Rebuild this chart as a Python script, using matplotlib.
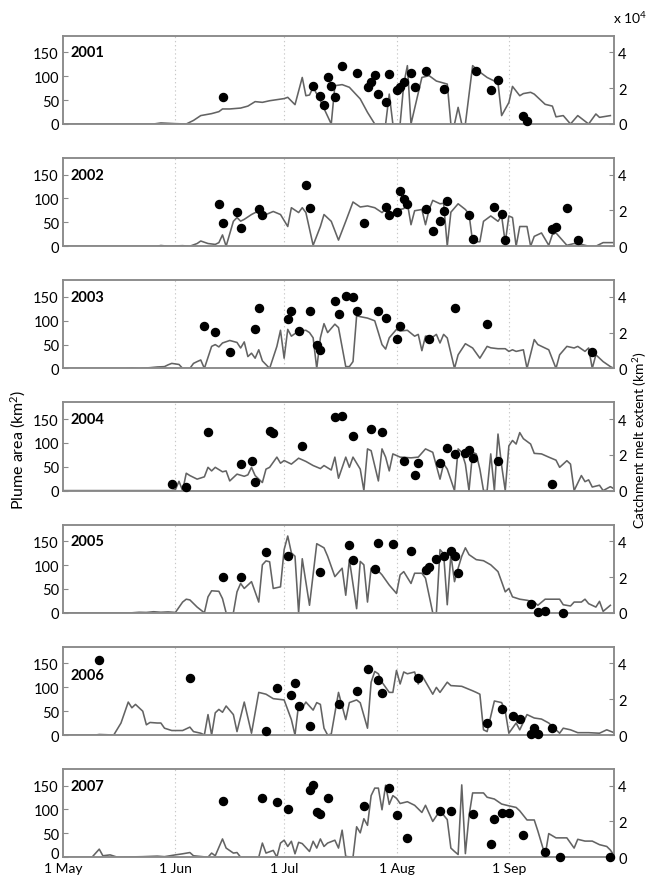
import matplotlib
matplotlib.use("Agg")
import matplotlib.pyplot as plt
from matplotlib.transforms import ScaledTranslation

plt.rcParams['font.family'] = ['Lato', 'DejaVu Sans']
plt.rcParams['mathtext.fontset'] = 'custom'
plt.rcParams['mathtext.rm'] = 'Lato'
plt.rcParams['mathtext.it'] = 'Lato'

# ---- axis labelling -------------------------------------------------------
years = [2001, 2002, 2003, 2004, 2005, 2006, 2007]
month_days = [0, 31, 61, 92, 123]          # days since 1 May
month_labels = ['1 May', '1 Jun', '1 Jul', '1 Aug', '1 Sep']
plume_ticks = [0, 50, 100, 150]
melt_ticks = [0, 2, 4]

# ---- catchment melt extent (x 10^4 km^2), day since 1 May -----------------
melt_days_2001 = [0, 25, 27, 29, 31, 34, 36, 38, 41, 43, 44, 46, 49, 51, 53, 55, 57, 59, 61, 62, 64, 66, 67, 68, 69, 71,
                  74, 75, 77, 79, 82, 84, 86, 89, 90, 91, 93, 94, 95, 96, 99, 101, 103, 106, 107, 108, 109, 110, 111,
                  113, 115, 117, 120, 121, 123, 124, 126, 127, 129, 130, 133, 135, 136, 138, 140, 142, 145, 147, 148, 151]
melt_2001 = [0, 0, 0.06, 0.04, 0.02, 0, 0.2, 0.47, 0.58, 0.69, 0.84, 0.84, 0.89, 1.0, 1.25, 1.21, 1.3, 1.36, 1.42, 1.49,
             1.08, 2.6, 1.58, 1.62, 2.05, 1.3, 0, 2.14, 2.2, 2.05, 1.4, 0.65, 0, 0, 1.67, 0, 0, 2.23, 3.26, 0, 2.6, 2.7,
             2.4, 2.23, 0, 0, 0.93, 0, 0, 3.26, 2.9, 2.6, 2.3, 0.47, 1.2, 2.1, 1.58, 1.7, 1.77, 1.67, 1.1, 1.0, 0.4,
             0.47, 0, 0.47, 0, 0.56, 0.37, 0.47]

melt_days_2002 = [0, 26, 27, 29, 33, 35, 37, 38, 40, 42, 43, 44, 45, 47, 48, 49, 50, 52, 54, 55, 56, 58, 60, 62, 63, 65,
                  66, 67, 69, 71, 72, 74, 76, 78, 80, 82, 84, 86, 88, 89, 91, 92, 94, 95, 96, 97, 99, 100, 101, 102,
                  104, 105, 106, 107, 109, 111, 112, 113, 115, 116, 118, 120, 121, 122, 123, 124, 125, 126, 128, 129,
                  130, 132, 134, 135, 136, 139, 141, 143, 145, 147, 149, 152]
melt_2002 = [0, 0, 0.04, 0, 0.03, 0, 0.15, 0.29, 0.15, 0.1, 0.2, 0.63, 0, 1.39, 1.6, 1.4, 1.5, 1.77, 1.98, 1.6, 1.77,
             1.94, 1.77, 1.1, 2.15, 1.88, 2.15, 1.88, 0.05, 1.1, 1.77, 1.39, 0.34, 1.39, 2.47, 2.19, 2.25, 2.15, 1.88,
             2.05, 1.8, 2.0, 2.1, 2.4, 1.2, 1.98, 2.05, 1.2, 2.05, 2.56, 2.37, 2.4, 0, 1.9, 2.37, 2.05, 1.8, 0.25,
             0.25, 1.39, 1.69, 1.39, 1.69, 0.2, 1.69, 1.6, 0, 1.1, 1.1, 0, 0.55, 0.74, 0.05, 0.65, 0.74, 0.05, 0.15,
             0.1, 0, 0, 0.2, 0.2]

melt_days_2003 = [0, 17, 19, 21, 24, 26, 28, 29, 30, 31, 32, 33, 35, 36, 37, 38, 39, 41, 42, 43, 44, 46, 48, 49, 50, 51,
                  52, 53, 54, 55, 57, 59, 60, 61, 62, 63, 65, 67, 68, 69, 70, 71, 72, 73, 75, 76, 78, 79, 80, 81, 82,
                  84, 86, 87, 88, 89, 90, 92, 93, 95, 97, 98, 99, 100, 102, 103, 104, 105, 106, 108, 109, 111, 113,
                  115, 117, 118, 120, 122, 123, 124, 125, 127, 128, 130, 131, 134, 136, 137, 139, 141, 142, 144, 145,
                  146, 147, 149, 151, 152]
melt_2003 = [0, 0, 0.03, 0, 0.04, 0.08, 0.1, 0.2, 0.28, 0.25, 0.22, 0, 0, 0.28, 0.38, 0.47, 0, 1.23, 1.33, 1.2, 1.42,
             1.56, 1.45, 1.14, 1.48, 0.66, 0.85, 0.57, 1.04, 0.42, 0, 1.23, 2.13, 0.57, 2.18, 1.8, 2.09, 2.13, 2.0,
             1.71, 0, 1.71, 2.5, 2.0, 2.47, 2.28, 0.1, 0.1, 0.38, 2.94, 2.89, 2.81, 2.66, 2.0, 1.33, 1.08, 1.71, 2.18,
             2.09, 2.13, 1.8, 1.9, 0.99, 1.8, 1.75, 1.9, 1.42, 1.9, 1.7, 0, 0.76, 1.38, 1.14, 0.57, 1.23, 1.15, 1.1,
             1.1, 0.95, 1.04, 0.95, 1.04, 0, 1.61, 1.33, 1.04, 0, 0.76, 1.23, 1.14, 1.23, 0.95, 1.14, 0, 0.76, 0.38,
             0.1, 0]

melt_days_2004 = [0, 30, 31, 32, 33, 34, 35, 37, 39, 40, 41, 42, 44, 45, 46, 48, 50, 51, 52, 53, 55, 56, 57, 59, 60, 61,
                  63, 65, 67, 69, 71, 72, 74, 75, 76, 78, 79, 80, 82, 83, 84, 85, 87, 88, 89, 90, 91, 93, 96, 98, 100,
                  102, 104, 105, 106, 108, 109, 110, 111, 112, 113, 114, 115, 116, 117, 118, 119, 120, 121, 122, 123,
                  124, 125, 126, 127, 129, 130, 132, 134, 136, 137, 139, 140, 141, 143, 144, 145, 146, 148, 149, 151,
                  152]
melt_2004 = [0, 0, 0.05, 0.52, 0, 0.97, 0.84, 0.64, 0.77, 1.3, 1.1, 1.3, 1.05, 1.1, 0.54, 0.92, 0.8, 0.88, 1.3, 0.84,
             0.45, 1.2, 1.3, 1.87, 1.53, 1.68, 1.48, 1.81, 1.63, 1.4, 1.23, 1.4, 1.15, 1.87, 0.69, 1.87, 1.3, 1.87,
             1.2, 0, 2.33, 2.23, 0.54, 2.33, 1.87, 1.1, 2.05, 1.87, 1.83, 1.87, 2.33, 2.14, 0.64, 1.5, 1.2, 0, 2.33,
             2.14, 1.48, 0, 2.14, 2.05, 1.2, 0, 0, 2.05, 0, 3.16, 1.4, 0, 2.5, 2.8, 2.6, 3.24, 2.9, 2.6, 2.08, 2.05,
             1.87, 1.7, 1.3, 1.67, 1.48, 0, 0.84, 0.5, 0.6, 0.2, 0.3, 0, 0.22, 0.1]

melt_days_2005 = [0, 19, 21, 23, 25, 27, 29, 31, 33, 34, 35, 37, 39, 40, 41, 43, 44, 45, 47, 48, 49, 50, 52, 54, 55, 56,
                  57, 58, 60, 61, 62, 63, 64, 65, 66, 68, 70, 72, 73, 75, 77, 78, 79, 81, 82, 83, 84, 85, 87, 88, 90,
                  92, 93, 94, 96, 97, 99, 100, 102, 103, 104, 105, 106, 107, 108, 109, 110, 111, 112, 114, 116, 118,
                  120, 121, 122, 123, 124, 126, 128, 130, 131, 133, 137, 138, 140, 141, 143, 144, 145, 147, 148, 149,
                  151]
melt_2005 = [0, 0, 0.03, 0.02, 0.06, 0.03, 0.05, 0.02, 0.6, 0.76, 0.72, 0.32, 0, 0.89, 1.23, 1.2, 0.79, 0, 0, 1.17,
             1.64, 1.36, 1.74, 0.6, 2.68, 2.9, 2.85, 1.36, 1.45, 3.53, 4.29, 3.35, 3.16, 0, 3.02, 0.42, 3.86, 3.63,
             3.16, 2.02, 2.49, 0.98, 2.97, 0.23, 2.87, 2.68, 0.6, 2.49, 2.34, 2.12, 1.55, 1.08, 2.12, 2.3, 1.64, 2.21,
             2.21, 1.93, 0, 0, 3.53, 3.3, 0.45, 3.25, 1.74, 2.49, 3.16, 3.63, 3.25, 2.97, 2.91, 2.68, 2.3, 1.74, 1.17,
             1.36, 0.89, 0.76, 0.7, 0.6, 0.42, 0.76, 0.76, 0.45, 0.38, 0.6, 0.6, 0.76, 0.51, 0.32, 0.64, 0.08, 0.42]

melt_days_2006 = [0, 9, 10, 14, 16, 18, 19, 20, 22, 23, 24, 26, 27, 28, 30, 33, 35, 36, 38, 39, 40, 41, 42, 43, 44, 45,
                  47, 48, 50, 52, 54, 56, 58, 61, 63, 64, 65, 66, 67, 69, 70, 71, 72, 73, 74, 76, 77, 78, 79, 81, 82,
                  84, 85, 86, 87, 88, 90, 91, 92, 93, 94, 95, 97, 98, 99, 102, 103, 104, 106, 107, 110, 113, 114, 115,
                  116, 117, 119, 121, 122, 123, 125, 126, 128, 130, 132, 134, 135, 137, 138, 140, 142, 145, 148, 150,
                  152]
melt_2006 = [0, 0, 0.03, 0, 0.67, 1.84, 1.52, 1.71, 1.33, 0.57, 0.7, 0.67, 0.67, 0.38, 0.25, 0.25, 0.44, 0.19, 0.1,
             0, 1.14, 0, 1.24, 1.43, 1.27, 1.62, 1.14, 0.19, 1.84, 0.1, 2.38, 2.28, 2.03, 1.96, 0.86, 0, 1.71, 1.5,
             1.84, 1.39, 1.81, 1.71, 0.38, 0, 0.05, 2.38, 1.62, 0.86, 1.81, 1.96, 1.8, 0.38, 2.95, 3.55, 3.42, 2.95,
             2.38, 2.38, 3.61, 2.85, 3.52, 3.42, 3.52, 2.85, 3.33, 2.28, 2.66, 2.38, 2.95, 2.76, 2.72, 2.47, 2.38,
             2.28, 0.29, 0.19, 1.9, 1.81, 1.33, 0.1, 0.67, 0.29, 1.14, 0.95, 0.89, 0.67, 0.48, 0.1, 0.38, 0.29, 0.13,
             0.13, 0.1, 0.29, 0.13]

melt_days_2007 = [0, 8, 10, 11, 13, 15, 22, 26, 28, 31, 33, 35, 36, 40, 41, 42, 44, 45, 47, 48, 49, 54, 55, 56, 58, 59,
                  60, 61, 62, 63, 64, 65, 66, 68, 69, 70, 71, 72, 73, 75, 76, 77, 78, 80, 81, 82, 83, 84, 85, 86, 87,
                  88, 89, 90, 91, 92, 93, 95, 97, 99, 100, 102, 103, 104, 106, 107, 108, 109, 110, 111, 112, 113, 116,
                  117, 119, 121, 123, 125, 126, 128, 130, 131, 133, 134, 136, 139, 141, 142, 144, 146, 148, 150, 151,
                  152]
melt_2007 = [0, 0, 0.45, 0.08, 0.13, 0, 0.03, 0.06, 0.03, 0.13, 0.19, 0.26, 0.08, 0, 0.23, 0.08, 1.02, 0.51, 0.23,
             0.26, 0, 0, 0.79, 0.23, 0.38, 0, 0.79, 0.95, 0.6, 0.89, 0.19, 0.83, 0.76, 0.32, 0.89, 0.51, 1.02, 0.6,
             0.79, 0.95, 0.51, 1.51, 0.04, 0, 1.7, 1.36, 2.15, 1.78, 3.44, 3.86, 3.86, 2.65, 4.02, 2.95, 3.44, 3.29,
             3.0, 3.1, 2.9, 2.5, 2.9, 2.0, 2.3, 2.6, 2.1, 0.51, 0.32, 0.15, 4.04, 0.2, 2.3, 3.59, 3.59, 3.35, 3.25,
             2.97, 2.87, 2.78, 2.59, 2.08, 2.08, 1.46, 0.1, 1.32, 1.08, 1.08, 0.51, 1.0, 0.9, 0.9, 0.7, 0.6, 0.4, 0.1]

# ---- plume area (km^2), day since 1 May -----------------------------------
plume_days_2001 = [44, 69, 71, 72, 73, 74, 75, 77, 81, 84, 85, 86, 87, 89, 90, 92, 93, 94, 96, 97, 100, 105, 114, 118,
                   120, 127, 128]
plume_2001 = [57, 79, 59, 40, 99, 80, 56, 121, 107, 77, 89, 103, 63, 47, 105, 71, 77, 89, 107, 77, 110, 73, 112, 71,
              92, 17, 6]

plume_days_2002 = [43, 44, 48, 49, 54, 55, 67, 68, 83, 89, 90, 92, 93, 94, 95, 100, 102, 104, 105, 106, 112, 113, 119,
                   121, 122, 135, 136, 139, 142]
plume_2002 = [89, 48, 71, 39, 78, 66, 129, 80, 48, 83, 66, 72, 115, 98, 88, 78, 32, 52, 73, 95, 66, 15, 83, 68, 14,
              36, 41, 80, 12]

plume_days_2003 = [39, 42, 46, 53, 54, 62, 63, 65, 68, 70, 71, 75, 76, 78, 80, 81, 87, 89, 92, 93, 101, 108, 117, 146]
plume_2003 = [89, 77, 34, 82, 127, 104, 121, 79, 121, 48, 39, 141, 114, 151, 150, 121, 121, 106, 62, 88, 61, 127, 94,
              34]

plume_days_2004 = [30, 34, 40, 49, 52, 53, 57, 58, 66, 75, 77, 80, 85, 88, 94, 97, 98, 104, 106, 108, 111, 112, 113,
                   120, 135]
plume_2004 = [13, 8, 122, 56, 63, 18, 124, 120, 94, 155, 156, 115, 129, 123, 63, 33, 58, 58, 90, 76, 79, 85, 69, 61,
              13]

plume_days_2005 = [44, 49, 56, 62, 71, 79, 80, 86, 87, 91, 96, 100, 101, 103, 105, 107, 108, 109, 129, 131, 133, 138]
plume_2005 = [74, 74, 127, 120, 85, 142, 111, 91, 146, 144, 129, 90, 97, 113, 118, 129, 120, 83, 19, 1, 4, 0]

plume_days_2006 = [10, 35, 56, 59, 63, 64, 65, 68, 76, 81, 84, 87, 88, 98, 117, 121, 124, 126, 129, 130, 131, 135]
plume_2006 = [157, 120, 9, 99, 84, 109, 61, 18, 64, 92, 139, 116, 89, 119, 25, 54, 39, 34, 2, 14, 2, 14]

plume_days_2007 = [44, 55, 59, 62, 68, 69, 70, 71, 73, 83, 90, 92, 95, 104, 107, 113, 118, 119, 121, 123, 127, 133,
                   137, 151]
plume_2007 = [117, 123, 116, 101, 141, 151, 94, 91, 124, 107, 146, 89, 41, 96, 96, 91, 28, 79, 92, 92, 46, 10, 0, 0]

melt_days = [melt_days_2001, melt_days_2002, melt_days_2003, melt_days_2004,
             melt_days_2005, melt_days_2006, melt_days_2007]
melt = [melt_2001, melt_2002, melt_2003, melt_2004, melt_2005, melt_2006, melt_2007]
plume_days = [plume_days_2001, plume_days_2002, plume_days_2003, plume_days_2004,
              plume_days_2005, plume_days_2006, plume_days_2007]
plume = [plume_2001, plume_2002, plume_2003, plume_2004, plume_2005, plume_2006, plume_2007]
# vertical position of the year tag, in plume-area units
year_tag_y = [150, 150, 150, 150, 150, 125, 150]

# ---- figure ----------------------------------------------------------------
W, H = 654, 878
fig = plt.figure(figsize=(W / 100, H / 100), dpi=100)

left_px, right_px = 63, 614
first_bottom_px, step_px, height_px = 125, 122.2, 88.3
frame_col = '#8a8a8a'
line_col = '#636363'

for i, yr in enumerate(years):
    bottom_px = first_bottom_px + step_px * i
    ax = fig.add_axes([left_px / W, 1 - bottom_px / H,
                       (right_px - left_px) / W, height_px / H])
    ax2 = ax.twinx()

    # melt extent line on the right-hand axis
    ax2.plot(melt_days[i], melt[i], color=line_col, lw=1.15, zorder=2)
    ax2.set_ylim(0, 4.933)
    ax2.set_yticks(melt_ticks)
    ax2.tick_params(axis='y', direction='in', length=3.5, width=0.8, color=frame_col,
                    labelsize=10.5, pad=3)

    # plume area dots on the left-hand axis, drawn above the line
    ax.set_zorder(ax2.get_zorder() + 1)
    ax.patch.set_visible(False)
    ax.plot(plume_days[i], plume[i], 'o', color='black', ms=5.8, mec='black', zorder=3, clip_on=False)
    ax.set_ylim(0, 185)
    ax.set_yticks(plume_ticks)
    ax.tick_params(axis='y', direction='in', length=3.5, width=0.8, color=frame_col,
                   labelsize=10.5, pad=3)
    ax.set_xlim(0, 152)

    for d in month_days[1:]:
        ax2.axvline(d, color='#c8c8c8', lw=0.8, ls=(0, (1.2, 2.5)), zorder=1)

    ax.set_xticks(month_days)
    ax.tick_params(axis='x', length=0, labelsize=10, pad=3.5)
    if i == len(years) - 1:
        ax.set_xticklabels(month_labels)
        # lift the lowest left "0" slightly so it clears the "1 May" label
        lift = ScaledTranslation(0, 3.5 / 72, fig.dpi_scale_trans)
        lab0 = ax.get_yticklabels()[0]
        lab0.set_transform(lab0.get_transform() + lift)
    else:
        ax.set_xticklabels([])

    for a in (ax, ax2):
        for s in a.spines.values():
            s.set_color(frame_col)
            s.set_linewidth(1.1)

    ax.text(2.0, year_tag_y[i], str(yr), fontsize=10.5, fontweight='bold',
            va='center', ha='left', zorder=4)

fig.text(613 / W, 1 - 18 / H, r'x 10$^4$', fontsize=10, ha='left', va='center')
fig.text(18 / W, 1 - 450 / H, r'Plume area (km$^2$)', rotation=90, fontsize=11.5,
         ha='center', va='center')
fig.text(640 / W, 1 - 440 / H, r'Catchment melt extent (km$^2$)', rotation=90, fontsize=10,
         ha='center', va='center')

fig.savefig('out.png', dpi=100)
